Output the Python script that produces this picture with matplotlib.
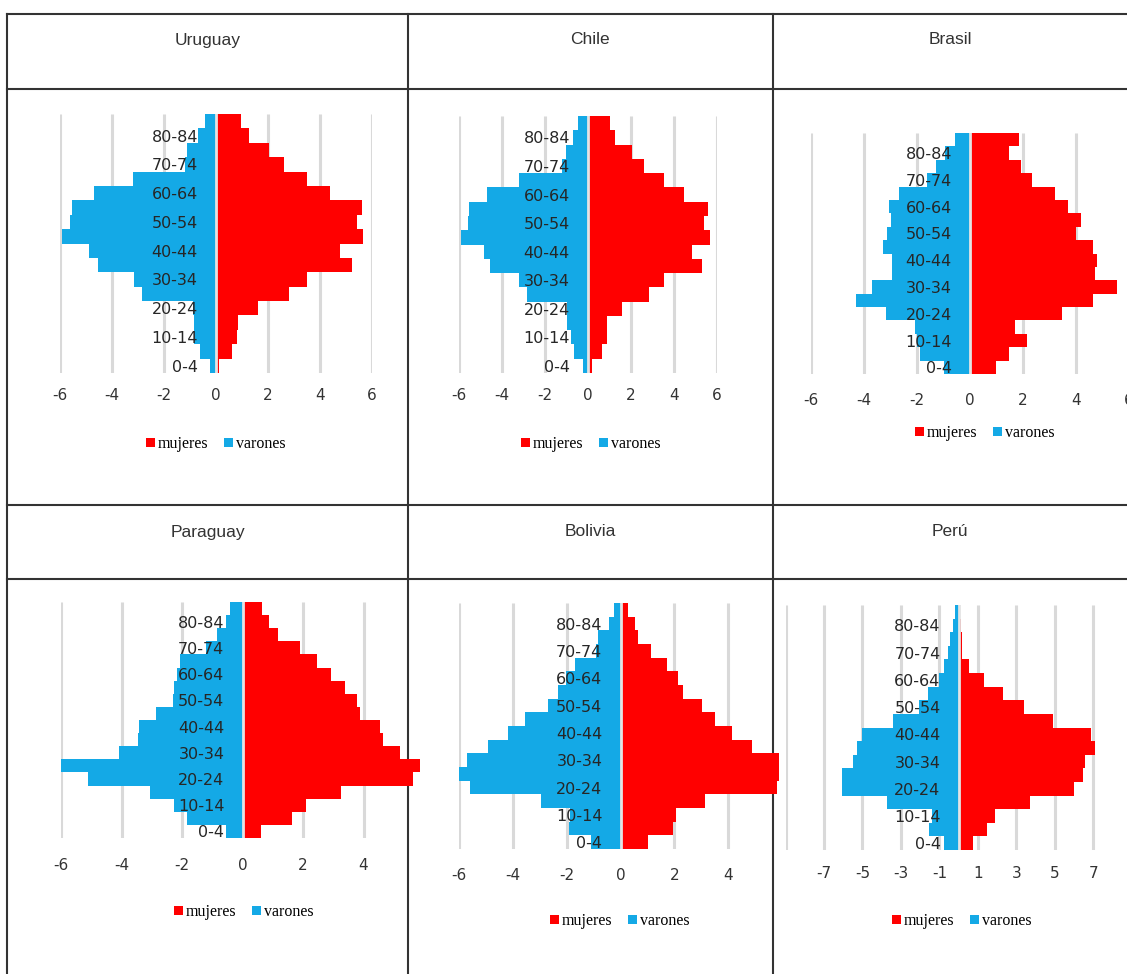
import matplotlib
matplotlib.use("Agg")
import matplotlib.pyplot as plt
from matplotlib.lines import Line2D

# ---------------- data ----------------
ages = ["0-4", "5-9", "10-14", "15-19", "20-24", "25-29", "30-34", "35-39", "40-44",
        "45-49", "50-54", "55-59", "60-64", "65-69", "70-74", "75-79", "80-84", "85+"]
age_labels = ages[::2]

countries = ["Uruguay", "Chile", "Brasil", "Paraguay", "Bolivia", "Perú"]

# percentages, youngest group first
uruguay_mujeres = [0.13, 0.6, 0.8, 0.83, 1.6, 2.8, 3.5, 5.22, 4.77, 5.67, 5.42, 5.6, 4.4, 3.5, 2.6, 2.05, 1.28, 0.96]
uruguay_varones = [0.22, 0.6, 0.85, 0.85, 0.9, 2.86, 3.17, 4.55, 4.87, 5.94, 5.6, 5.55, 4.7, 3.2, 1.2, 1.1, 0.7, 0.42]

chile_mujeres = [0.2, 0.64, 0.87, 0.87, 1.6, 2.84, 3.53, 5.3, 4.85, 5.67, 5.4, 5.6, 4.47, 3.53, 2.6, 2.06, 1.24, 1.0]
chile_varones = [0.22, 0.65, 0.8, 0.96, 0.96, 2.82, 3.2, 4.56, 4.84, 5.92, 5.6, 5.53, 4.68, 3.2, 1.2, 1.04, 0.7, 0.45]

brasil_mujeres = [0.97, 1.48, 2.16, 1.7, 3.46, 4.65, 5.53, 4.72, 4.78, 4.65, 4.0, 4.2, 3.7, 3.2, 2.35, 1.92, 1.48, 1.85]
brasil_varones = [1.0, 1.88, 2.0, 2.07, 3.18, 4.31, 3.69, 2.96, 2.96, 3.27, 3.14, 3.0, 3.06, 2.68, 1.64, 1.3, 0.94, 0.57]

paraguay_mujeres = [0.6, 1.65, 2.09, 3.27, 5.64, 5.87, 5.2, 4.66, 4.55, 3.89, 3.78, 3.38, 2.92, 2.46, 1.9, 1.16, 0.88, 0.63]
paraguay_varones = [0.55, 1.82, 2.26, 3.05, 5.11, 6.0, 4.07, 3.47, 3.41, 2.86, 2.3, 2.26, 2.17, 2.06, 1.2, 0.83, 0.55, 0.41]

bolivia_mujeres = [1.03, 1.96, 2.08, 3.14, 5.8, 5.88, 5.88, 4.9, 4.13, 3.5, 3.01, 2.33, 2.14, 1.71, 1.15, 0.66, 0.53, 0.29]
bolivia_varones = [1.08, 1.91, 1.88, 2.94, 5.6, 6.0, 5.72, 4.92, 4.18, 3.56, 2.69, 2.32, 2.03, 1.7, 0.9, 0.83, 0.42, 0.25]

peru_mujeres = [0.76, 1.46, 1.9, 3.71, 6.02, 6.46, 6.55, 7.07, 6.89, 4.9, 3.42, 2.33, 1.34, 0.55, 0.2, 0.2, 0.1, 0.05]
peru_varones = [0.75, 1.53, 1.4, 3.75, 6.07, 6.07, 5.49, 5.26, 5.03, 3.4, 2.05, 1.6, 1.0, 0.75, 0.57, 0.47, 0.3, 0.17]

std_ticks = [-6, -4, -2, 0, 2, 4, 6]
cut_ticks = [-6, -4, -2, 0, 2, 4]
peru_grid = [-9, -7, -5, -3, -1, 1, 3, 5, 7, 9]
peru_ticks = [-7, -5, -3, -1, 1, 3, 5, 7]

series = {
    "Uruguay": (uruguay_mujeres, uruguay_varones),
    "Chile": (chile_mujeres, chile_varones),
    "Brasil": (brasil_mujeres, brasil_varones),
    "Paraguay": (paraguay_mujeres, paraguay_varones),
    "Bolivia": (bolivia_mujeres, bolivia_varones),
    "Perú": (peru_mujeres, peru_varones),
}

# ---------------- layout (pixels) ----------------
W, H = 1127, 974
layout = {
    "Uruguay":  dict(px=(60, 372, 114, 373), xlim=(-6, 6), grid=std_ticks, ticks=std_ticks, tpad=24, leg=(216, 444), title=(208, 40)),
    "Chile":    dict(px=(459, 717, 116, 373), xlim=(-6, 6), grid=std_ticks, ticks=std_ticks, tpad=24, leg=(591, 444), title=(590, 40)),
    "Brasil":   dict(px=(811, 1129, 133, 374), xlim=(-6, 6), grid=std_ticks, ticks=std_ticks, tpad=28, leg=(985, 433), title=(950, 40)),
    "Paraguay": dict(px=(61, 424, 602, 838), xlim=(-6, 6), grid=cut_ticks, ticks=cut_ticks, tpad=29, leg=(244, 912), title=(208, 532)),
    "Bolivia":  dict(px=(459, 782, 603, 849), xlim=(-6, 6), grid=cut_ticks, ticks=cut_ticks, tpad=28, leg=(620, 921), title=(590, 532)),
    "Perú":     dict(px=(785.6, 1131.6, 605, 850), xlim=(-9, 9), grid=peru_grid, ticks=peru_ticks, tpad=25, leg=(962, 921), title=(950, 532)),
}

RED = "#FF0000"
BLUE = "#14A9E6"
GRID = "#D9D9D9"

fig = plt.figure(figsize=(W / 100, H / 100), dpi=100)
fig.patch.set_facecolor("white")

# table lines
line_kw = dict(color="#333333", lw=1.5, zorder=-1, transform=fig.transFigure)
for y in [14, 89, 505, 579]:
    fig.add_artist(Line2D([7 / W, 1.0], [1 - y / H, 1 - y / H], **line_kw))
for x in [7, 408, 773]:
    fig.add_artist(Line2D([x / W, x / W], [1 - 14 / H, 0.0], **line_kw))

ypos = list(range(len(ages)))
for name in countries:
    lay = layout[name]
    x0, x1, y0, y1 = lay["px"]
    ax = fig.add_axes([x0 / W, 1 - y1 / H, (x1 - x0) / W, (y1 - y0) / H])
    ax.set_facecolor("none")
    muj, var = series[name]
    ax.vlines(lay["grid"], -0.5, len(ages) - 0.5, colors=GRID, lw=2.2, zorder=0)
    b1 = ax.barh(ypos, muj, height=1.0, color=RED, label="mujeres", zorder=1)
    b2 = ax.barh(ypos, [-v for v in var], height=1.0, color=BLUE, label="varones", zorder=1)
    ax.axvline(0, color="#E4E4E4", lw=2.0, zorder=2)
    ax.set_xlim(*lay["xlim"])
    ax.set_ylim(-0.5, len(ages) - 0.5)
    for s in ax.spines.values():
        s.set_visible(False)
    ax.spines["left"].set_position(("data", 0))
    ax.set_yticks(ypos[::2])
    ax.set_yticklabels(age_labels, fontsize=11.5, color="#262626", family="DejaVu Sans")
    ax.tick_params(axis="y", length=0, pad=13)
    ax.set_xticks(lay["ticks"])
    ax.set_xticklabels([str(t) for t in lay["ticks"]], fontsize=11, color="#333333", family="DejaVu Sans")
    ax.tick_params(axis="x", length=0, pad=(lay["tpad"] - 9) / 1.389)
    lx, ly = lay["leg"]
    ax.legend(handles=[b1, b2], loc="center", bbox_to_anchor=(lx / W, 1 - ly / H),
              bbox_transform=fig.transFigure, ncol=2, frameon=False,
              handlelength=0.55, handleheight=0.55, handletextpad=0.2, columnspacing=1.0,
              prop=dict(family="Liberation Serif", size=11.5))
    tx, ty = lay["title"]
    fig.text(tx / W, 1 - ty / H, name, ha="center", va="center",
             family="Liberation Sans", fontsize=12.5, color="#333333")

fig.savefig("out.png", dpi=100, facecolor="white")
